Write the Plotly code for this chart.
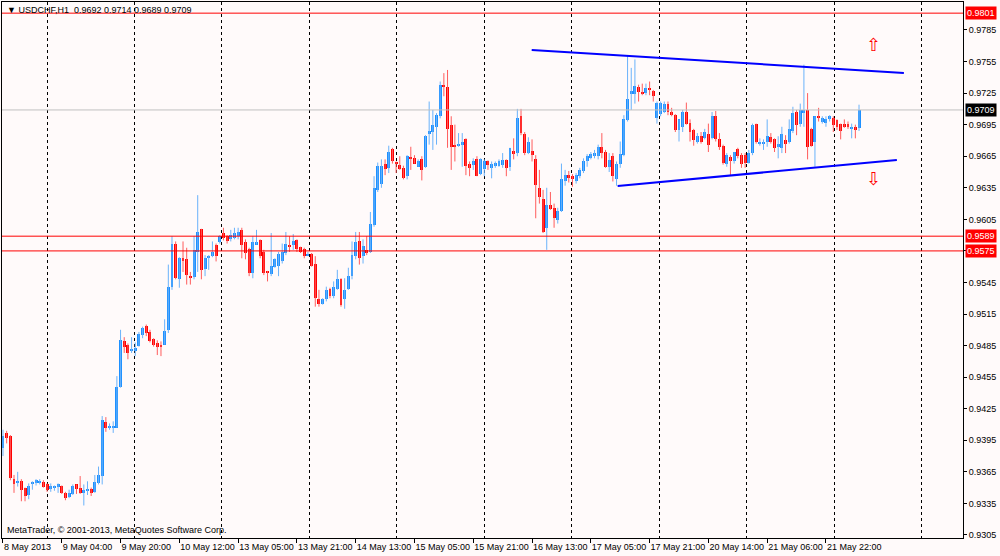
import plotly.graph_objects as go

# USDCHF H1 candles, bar 0 = 8 May 2013 12:00
open_ = [
    0.9388, 0.9402, 0.9399, 0.9358, 0.9354, 0.9356, 0.9350, 0.9343, 0.9353, 0.9354,
    0.9355, 0.9355, 0.9353, 0.9349, 0.9350, 0.9351, 0.9352, 0.9345, 0.9341, 0.9344,
    0.9353, 0.9350, 0.9345, 0.9347, 0.9349, 0.9346, 0.9354, 0.9361, 0.9412, 0.9407,
    0.9407, 0.9407, 0.9446, 0.9489, 0.9486, 0.9480, 0.9480, 0.9485, 0.9495, 0.9504,
    0.9498, 0.9491, 0.9487, 0.9486, 0.9486, 0.9500, 0.9541, 0.9582, 0.9548, 0.9568,
    0.9567, 0.9551, 0.9550, 0.9574, 0.9596, 0.9558, 0.9568, 0.9570, 0.9581, 0.9583,
    0.9592, 0.9589, 0.9586, 0.9587, 0.9589, 0.9595, 0.9583, 0.9577, 0.9554, 0.9581,
    0.9585, 0.9574, 0.9555, 0.9553, 0.9560, 0.9561, 0.9565, 0.9573, 0.9581, 0.9581,
    0.9585, 0.9579, 0.9577, 0.9571, 0.9572, 0.9563, 0.9529, 0.9525, 0.9529, 0.9539,
    0.9532, 0.9539, 0.9548, 0.9529, 0.9539, 0.9551, 0.9570, 0.9584, 0.9570, 0.9576,
    0.9574, 0.9600, 0.9633, 0.9639, 0.9658, 0.9654, 0.9672, 0.9659, 0.9657, 0.9654,
    0.9646, 0.9664, 0.9663, 0.9655, 0.9662, 0.9655, 0.9686, 0.9688, 0.9693, 0.9703,
    0.9733, 0.9731, 0.9695, 0.9676, 0.9675, 0.9676, 0.9681, 0.9658, 0.9657, 0.9662,
    0.9648, 0.9653, 0.9660, 0.9654, 0.9656, 0.9656, 0.9657, 0.9661, 0.9655, 0.9670,
    0.9668, 0.9703, 0.9686, 0.9668, 0.9670, 0.9662, 0.9635, 0.9624, 0.9597, 0.9619,
    0.9616, 0.9604, 0.9613, 0.9641, 0.9647, 0.9646, 0.9641, 0.9646, 0.9651, 0.9660,
    0.9663, 0.9665, 0.9665, 0.9674, 0.9669, 0.9655, 0.9665, 0.9643, 0.9658, 0.9666,
    0.9699, 0.9724, 0.9724, 0.9731, 0.9726, 0.9725, 0.9730, 0.9727, 0.9701, 0.9705,
    0.9707, 0.9715, 0.9707, 0.9704, 0.9690, 0.9693, 0.9707, 0.9697, 0.9690, 0.9679,
    0.9684, 0.9682, 0.9686, 0.9682, 0.9703, 0.9681, 0.9675, 0.9658, 0.9664, 0.9660,
    0.9672, 0.9666, 0.9666, 0.9659, 0.9668, 0.9696, 0.9677, 0.9677, 0.9679, 0.9683,
    0.9681, 0.9674, 0.9673, 0.9680, 0.9679, 0.9689, 0.9707, 0.9696, 0.9706, 0.9709,
    0.9691, 0.9679, 0.9703, 0.9698, 0.9697, 0.9700, 0.9701, 0.9699, 0.9696, 0.9696,
    0.9696, 0.9691, 0.9693, 0.9692,
]
high = [
    0.9405, 0.9404, 0.9400, 0.9362, 0.9365, 0.9358, 0.9350, 0.9354, 0.9356, 0.9358,
    0.9358, 0.9357, 0.9354, 0.9354, 0.9352, 0.9354, 0.9352, 0.9346, 0.9348, 0.9353,
    0.9353, 0.9361, 0.9353, 0.9356, 0.9350, 0.9362, 0.9370, 0.9418, 0.9417, 0.9411,
    0.9413, 0.9456, 0.9500, 0.9493, 0.9487, 0.9493, 0.9488, 0.9498, 0.9503, 0.9505,
    0.9500, 0.9492, 0.9490, 0.9489, 0.9510, 0.9562, 0.9589, 0.9584, 0.9569, 0.9584,
    0.9578, 0.9555, 0.9589, 0.9628, 0.9596, 0.9571, 0.9571, 0.9584, 0.9582, 0.9590,
    0.9597, 0.9590, 0.9595, 0.9597, 0.9597, 0.9597, 0.9586, 0.9578, 0.9589, 0.9595,
    0.9586, 0.9576, 0.9556, 0.9592, 0.9568, 0.9574, 0.9582, 0.9593, 0.9589, 0.9591,
    0.9586, 0.9579, 0.9578, 0.9574, 0.9573, 0.9570, 0.9538, 0.9530, 0.9541, 0.9540,
    0.9546, 0.9557, 0.9549, 0.9549, 0.9559, 0.9584, 0.9593, 0.9593, 0.9586, 0.9589,
    0.9612, 0.9646, 0.9659, 0.9662, 0.9662, 0.9675, 0.9673, 0.9660, 0.9665, 0.9656,
    0.9666, 0.9674, 0.9666, 0.9662, 0.9665, 0.9685, 0.9717, 0.9709, 0.9706, 0.9736,
    0.9744, 0.9747, 0.9703, 0.9695, 0.9687, 0.9687, 0.9682, 0.9660, 0.9663, 0.9665,
    0.9663, 0.9662, 0.9661, 0.9660, 0.9660, 0.9662, 0.9668, 0.9662, 0.9673, 0.9682,
    0.9710, 0.9710, 0.9688, 0.9683, 0.9681, 0.9666, 0.9652, 0.9633, 0.9635, 0.9631,
    0.9620, 0.9616, 0.9658, 0.9652, 0.9651, 0.9648, 0.9649, 0.9654, 0.9663, 0.9667,
    0.9669, 0.9671, 0.9676, 0.9687, 0.9671, 0.9668, 0.9668, 0.9660, 0.9679, 0.9704,
    0.9761, 0.9749, 0.9757, 0.9733, 0.9734, 0.9734, 0.9736, 0.9728, 0.9717, 0.9717,
    0.9717, 0.9717, 0.9711, 0.9705, 0.9700, 0.9709, 0.9716, 0.9700, 0.9691, 0.9687,
    0.9688, 0.9691, 0.9696, 0.9707, 0.9708, 0.9687, 0.9676, 0.9668, 0.9666, 0.9669,
    0.9673, 0.9668, 0.9668, 0.9671, 0.9696, 0.9696, 0.9682, 0.9681, 0.9700, 0.9687,
    0.9682, 0.9684, 0.9693, 0.9685, 0.9700, 0.9712, 0.9709, 0.9715, 0.9752, 0.9725,
    0.9692, 0.9703, 0.9711, 0.9703, 0.9703, 0.9704, 0.9703, 0.9700, 0.9696, 0.9700,
    0.9698, 0.9696, 0.9695, 0.9714,
]
low = [
    0.9380, 0.9392, 0.9357, 0.9345, 0.9351, 0.9337, 0.9337, 0.9339, 0.9348, 0.9352,
    0.9353, 0.9350, 0.9346, 0.9346, 0.9347, 0.9345, 0.9344, 0.9338, 0.9340, 0.9343,
    0.9344, 0.9344, 0.9333, 0.9343, 0.9342, 0.9345, 0.9353, 0.9353, 0.9403, 0.9405,
    0.9402, 0.9407, 0.9445, 0.9478, 0.9472, 0.9478, 0.9475, 0.9484, 0.9492, 0.9494,
    0.9488, 0.9484, 0.9476, 0.9475, 0.9486, 0.9497, 0.9538, 0.9548, 0.9540, 0.9555,
    0.9543, 0.9543, 0.9548, 0.9555, 0.9548, 0.9551, 0.9557, 0.9569, 0.9565, 0.9582,
    0.9585, 0.9582, 0.9584, 0.9586, 0.9586, 0.9568, 0.9567, 0.9551, 0.9549, 0.9581,
    0.9568, 0.9552, 0.9546, 0.9551, 0.9559, 0.9551, 0.9563, 0.9571, 0.9574, 0.9576,
    0.9574, 0.9573, 0.9568, 0.9570, 0.9560, 0.9522, 0.9522, 0.9524, 0.9527, 0.9530,
    0.9530, 0.9538, 0.9522, 0.9520, 0.9538, 0.9548, 0.9567, 0.9562, 0.9563, 0.9571,
    0.9573, 0.9598, 0.9631, 0.9635, 0.9647, 0.9649, 0.9658, 0.9649, 0.9652, 0.9643,
    0.9643, 0.9652, 0.9658, 0.9655, 0.9642, 0.9654, 0.9676, 0.9671, 0.9676, 0.9701,
    0.9722, 0.9673, 0.9652, 0.9660, 0.9674, 0.9655, 0.9647, 0.9646, 0.9652, 0.9646,
    0.9647, 0.9646, 0.9652, 0.9644, 0.9654, 0.9655, 0.9654, 0.9646, 0.9651, 0.9662,
    0.9665, 0.9685, 0.9666, 0.9667, 0.9660, 0.9606, 0.9620, 0.9592, 0.9576, 0.9614,
    0.9597, 0.9601, 0.9612, 0.9637, 0.9640, 0.9636, 0.9639, 0.9644, 0.9649, 0.9655,
    0.9662, 0.9663, 0.9662, 0.9663, 0.9654, 0.9650, 0.9641, 0.9637, 0.9654, 0.9665,
    0.9698, 0.9709, 0.9715, 0.9717, 0.9723, 0.9723, 0.9723, 0.9717, 0.9696, 0.9703,
    0.9706, 0.9704, 0.9703, 0.9688, 0.9679, 0.9688, 0.9695, 0.9679, 0.9675, 0.9677,
    0.9677, 0.9681, 0.9669, 0.9681, 0.9679, 0.9671, 0.9657, 0.9655, 0.9647, 0.9658,
    0.9663, 0.9654, 0.9654, 0.9658, 0.9666, 0.9677, 0.9675, 0.9671, 0.9674, 0.9677,
    0.9669, 0.9663, 0.9668, 0.9668, 0.9677, 0.9687, 0.9685, 0.9693, 0.9693, 0.9662,
    0.9674, 0.9655, 0.9698, 0.9696, 0.9693, 0.9698, 0.9688, 0.9690, 0.9681, 0.9692,
    0.9691, 0.9682, 0.9682, 0.9689,
]
close = [
    0.9399, 0.9397, 0.9359, 0.9353, 0.9356, 0.9348, 0.9342, 0.9352, 0.9355, 0.9357,
    0.9356, 0.9351, 0.9348, 0.9352, 0.9352, 0.9353, 0.9345, 0.9340, 0.9345, 0.9352,
    0.9349, 0.9345, 0.9348, 0.9348, 0.9345, 0.9355, 0.9362, 0.9414, 0.9407, 0.9409,
    0.9409, 0.9446, 0.9490, 0.9484, 0.9478, 0.9482, 0.9483, 0.9496, 0.9502, 0.9497,
    0.9489, 0.9486, 0.9484, 0.9484, 0.9499, 0.9541, 0.9582, 0.9549, 0.9568, 0.9565,
    0.9552, 0.9549, 0.9576, 0.9593, 0.9557, 0.9568, 0.9570, 0.9574, 0.9570, 0.9589,
    0.9587, 0.9584, 0.9590, 0.9592, 0.9593, 0.9581, 0.9573, 0.9554, 0.9583, 0.9583,
    0.9570, 0.9554, 0.9554, 0.9561, 0.9567, 0.9572, 0.9574, 0.9582, 0.9579, 0.9584,
    0.9577, 0.9574, 0.9570, 0.9572, 0.9561, 0.9530, 0.9525, 0.9529, 0.9538, 0.9532,
    0.9541, 0.9548, 0.9524, 0.9538, 0.9551, 0.9571, 0.9583, 0.9568, 0.9580, 0.9573,
    0.9601, 0.9635, 0.9656, 0.9656, 0.9653, 0.9669, 0.9660, 0.9658, 0.9653, 0.9644,
    0.9665, 0.9662, 0.9658, 0.9660, 0.9652, 0.9684, 0.9689, 0.9695, 0.9704, 0.9733,
    0.9731, 0.9691, 0.9674, 0.9674, 0.9677, 0.9679, 0.9656, 0.9654, 0.9660, 0.9646,
    0.9662, 0.9660, 0.9657, 0.9658, 0.9659, 0.9660, 0.9661, 0.9654, 0.9673, 0.9667,
    0.9701, 0.9687, 0.9668, 0.9679, 0.9666, 0.9638, 0.9626, 0.9593, 0.9619, 0.9615,
    0.9606, 0.9613, 0.9643, 0.9647, 0.9644, 0.9643, 0.9647, 0.9652, 0.9660, 0.9665,
    0.9667, 0.9668, 0.9674, 0.9668, 0.9655, 0.9661, 0.9646, 0.9658, 0.9667, 0.9700,
    0.9719, 0.9727, 0.9732, 0.9726, 0.9725, 0.9730, 0.9728, 0.9722, 0.9716, 0.9716,
    0.9715, 0.9707, 0.9704, 0.9690, 0.9700, 0.9707, 0.9696, 0.9688, 0.9680, 0.9684,
    0.9679, 0.9688, 0.9676, 0.9703, 0.9681, 0.9674, 0.9659, 0.9666, 0.9660, 0.9669,
    0.9665, 0.9658, 0.9659, 0.9668, 0.9695, 0.9679, 0.9679, 0.9678, 0.9684, 0.9679,
    0.9673, 0.9677, 0.9686, 0.9677, 0.9691, 0.9706, 0.9695, 0.9709, 0.9709, 0.9674,
    0.9675, 0.9703, 0.9701, 0.9701, 0.9700, 0.9703, 0.9695, 0.9693, 0.9689, 0.9693,
    0.9693, 0.9693, 0.9690, 0.9709,
]

tick_labels = [
    "8 May 2013", "9 May 04:00", "9 May 20:00", "10 May 12:00", "13 May 05:00",
    "13 May 21:00", "14 May 13:00", "15 May 05:00", "15 May 21:00", "16 May 13:00",
    "17 May 05:00", "17 May 21:00", "20 May 14:00", "21 May 06:00", "21 May 22:00",
]
bars_per_label = 16

# horizontal levels drawn on the chart
red_levels = [0.9801, 0.9589, 0.9575]

# channel lines (bar index, price)
upper_x = [143.9, 245.2]
upper_y = [0.97660, 0.97441]
lower_x = [167.3, 243.3]
lower_y = [0.96367, 0.96614]

# breakout arrows
arrow_x = [237, 237]
arrow_y = [0.97690, 0.96415]
arrow_txt = ["\u21e7", "\u21e9"]

BULL = "#1E90FF"
BEAR = "#FF0000"
FONT = "Liberation Sans"

n = len(close)
idx = list(range(n))
up = [i for i in idx if close[i] >= open_[i]]
dn = [i for i in idx if close[i] < open_[i]]


def wicks(ids):
    xs, ys = [], []
    for i in ids:
        xs += [i, i, None]
        ys += [low[i], high[i], None]
    return xs, ys


def bodies(ids):
    base = [min(open_[i], close[i]) for i in ids]
    size = [max(abs(close[i] - open_[i]), 0.00006) for i in ids]
    return base, size


fig = go.Figure()
for ids, wick_col in [(up, "#6AB2FA"), (dn, "#FF5C5C")]:
    wx, wy = wicks(ids)
    fig.add_trace(go.Scatter(x=wx, y=wy, mode="lines",
                             line=dict(color=wick_col, width=1),
                             hoverinfo="skip", showlegend=False))
for ids, body_col in [(up, BULL), (dn, BEAR)]:
    b, s = bodies(ids)
    fig.add_trace(go.Bar(x=ids, y=s, base=b, width=0.8,
                         marker=dict(color=body_col, line=dict(width=0)),
                         showlegend=False))

fig.add_trace(go.Scatter(x=upper_x, y=upper_y, mode="lines",
                         line=dict(color="#0000FF", width=2), showlegend=False))
fig.add_trace(go.Scatter(x=lower_x, y=lower_y, mode="lines",
                         line=dict(color="#0000FF", width=2), showlegend=False))
fig.add_trace(go.Scatter(x=arrow_x, y=arrow_y, mode="text", text=arrow_txt,
                         textfont=dict(color="#FF0000", size=18, family="DejaVu Sans"),
                         xaxis="x2", showlegend=False))

for lv in red_levels:
    fig.add_hline(y=lv, line=dict(color="#FF0000", width=1))
fig.add_hline(y=close[-1], line=dict(color="#C0C0C0", width=1))

x_range = [-0.27, 261.3]
y_range = [0.93021, 0.98116]

fig.update_layout(
    width=1000, height=556,
    margin=dict(l=2, r=37, t=2, b=18),
    paper_bgcolor="#FFFAFA", plot_bgcolor="#FFFAFA",
    barmode="overlay", bargap=0,
    font=dict(family=FONT, size=9, color="black"),
    xaxis=dict(
        range=x_range, tickmode="array",
        tickvals=[k * bars_per_label for k in range(len(tick_labels))],
        ticktext=tick_labels, ticks="outside", ticklen=4, tickcolor="black",
        ticklabelposition="outside right", tickangle=0,
        showgrid=False, zeroline=False, showline=True, mirror=True,
        linecolor="black", linewidth=1,
    ),
    xaxis2=dict(
        range=x_range, overlaying="x", side="bottom",
        tickmode="linear", tick0=12, dtick=23.8,
        showgrid=True, gridcolor="black", gridwidth=1, griddash="3px,3px",
        showticklabels=False, ticks="", zeroline=False, showline=False,
    ),
    yaxis=dict(
        range=y_range, side="right", tickmode="linear", tick0=0.9305, dtick=0.003,
        tickformat=".4f", ticks="outside", ticklen=3, tickcolor="black",
        showgrid=False, zeroline=False, showline=True, mirror=True,
        linecolor="black", linewidth=1,
    ),
)

for lv in red_levels:
    fig.add_annotation(x=1, xref="paper", y=lv, yref="y", xanchor="left",
                       xshift=2, text=f"{lv:.4f}", showarrow=False,
                       bgcolor="#FF0000", font=dict(color="white", size=9), borderpad=1)
fig.add_annotation(x=1, xref="paper", y=close[-1], yref="y", xanchor="left",
                   xshift=2, text=f"{close[-1]:.4f}", showarrow=False,
                   bgcolor="black", font=dict(color="white", size=9), borderpad=1)

title = "\u25bc USDCHF,H1  {:.4f} {:.4f} {:.4f} {:.4f}".format(
    open_[-1], high[-1], low[-1], close[-1])
fig.add_annotation(x=0, xref="paper", y=1, yref="paper", xanchor="left", yanchor="top",
                   xshift=3, yshift=-1, text=title, showarrow=False,
                   font=dict(size=9, color="black"))
fig.add_annotation(x=0, xref="paper", y=0, yref="paper", xanchor="left", yanchor="bottom",
                   xshift=3, yshift=1,
                   text="MetaTrader, \u00a9 2001-2013, MetaQuotes Software Corp.",
                   showarrow=False, font=dict(size=9, color="black"))

fig.write_html("out.html", config={"displayModeBar": False},
               post_script="document.body.style.margin='0';")
